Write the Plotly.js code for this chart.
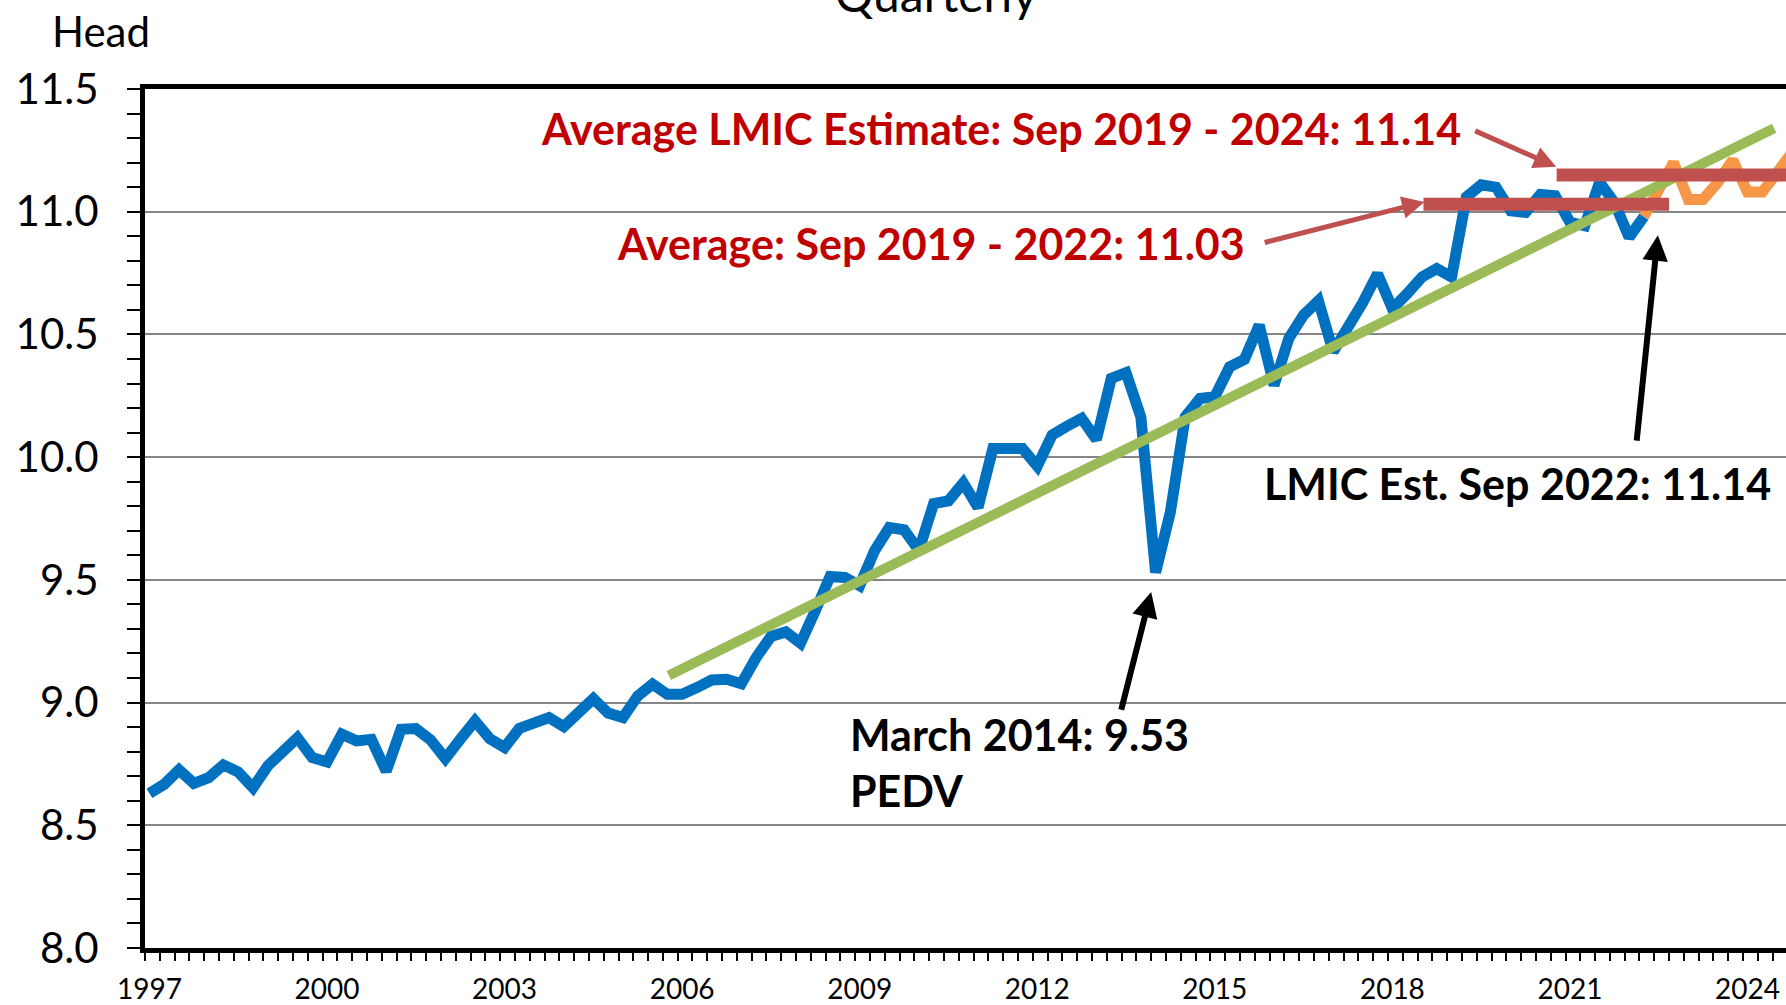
<!DOCTYPE html>
<html>
<head>
<meta charset="utf-8">
<script src="https://cdn.plot.ly/plotly-3.0.1.min.js"></script>
<style>
  html, body { margin: 0; padding: 0; background: #ffffff; overflow: hidden; }
  #chart { width: 1859px; height: 1005px; }
</style>
</head>
<body>
<div id="chart"></div>
<script>
// Quarterly head count, March 1997 onward (one value per quarter)
const blueValues = [
  8.63, 8.667, 8.726, 8.671, 8.694, 8.746, 8.717, 8.653, 8.742, 8.80,
  8.857, 8.776, 8.758, 8.871, 8.844, 8.85, 8.72, 8.891, 8.894, 8.848,
  8.772, 8.85, 8.925, 8.853, 8.817, 8.895, 8.915, 8.939, 8.902, 8.96,
  9.016, 8.957, 8.939, 9.027, 9.075, 9.034, 9.034, 9.061, 9.092, 9.095,
  9.077, 9.183, 9.269, 9.288, 9.242, 9.374, 9.514, 9.51, 9.476, 9.618,
  9.713, 9.704, 9.62, 9.811, 9.822, 9.895, 9.795, 10.035, 10.038, 10.035,
  9.963, 10.09, 10.126, 10.158, 10.072, 10.321, 10.344, 10.164, 9.53, 9.777,
  10.164, 10.239, 10.246, 10.368, 10.398, 10.538, 10.293, 10.484, 10.579, 10.637,
  10.43, 10.52, 10.63, 10.747, 10.605, 10.666, 10.734, 10.768, 10.734, 11.06,
  11.11, 11.10, 11.004, 10.997, 11.07, 11.065, 10.957, 10.943, 11.12, 11.038,
  10.896, 10.98
];
// LMIC estimate (orange), starting at the last actual quarter
const orangeStart = 101;
const orangeValues = [10.98, 11.10, 11.20, 11.05, 11.05, 11.12, 11.21, 11.08, 11.08, 11.16, 11.24];

// Trend line (green) end points: quarter index, value
const trendX = [35.1, 109.8];
const trendY = [9.11, 11.34];

// Average bars
const avg2022X = [86.1, 102.7];
const avg2022Y = [11.03, 11.03];
const avg2024X = [95.1, 116];
const avg2024Y = [11.15, 11.15];

// Axis labels
const yearTickVals = [0, 12, 24, 36, 48, 60, 72, 84, 96, 108];
const yearTickText = ['1997', '2000', '2003', '2006', '2009', '2012', '2015', '2018', '2021', '2024'];
const yTickVals = [8.0, 8.5, 9.0, 9.5, 10.0, 10.5, 11.0, 11.5];
const yTickText = ['8.0', '8.5', '9.0', '9.5', '10.0', '10.5', '11.0', '11.5'];

const blueX = blueValues.map((_, i) => i);
const orangeX = orangeValues.map((_, i) => orangeStart + i);

const traces = [
  { x: blueX, y: blueValues, mode: 'lines', line: { color: '#0070C0', width: 11 }, hoverinfo: 'skip' },
  { x: orangeX, y: orangeValues, mode: 'lines', line: { color: '#F79646', width: 11 }, hoverinfo: 'skip' },
  { x: trendX, y: trendY, mode: 'lines', line: { color: '#9BBB59', width: 10 }, hoverinfo: 'skip' },
  { x: avg2022X, y: avg2022Y, mode: 'lines', line: { color: '#C0504D', width: 13 }, hoverinfo: 'skip' },
  { x: avg2024X, y: avg2024Y, mode: 'lines', line: { color: '#C0504D', width: 13 }, hoverinfo: 'skip' }
];

const txtFont = 'Lato, sans-serif';
const red = '#C00000';

const layout = {
  width: 1859,
  height: 1005,
  margin: { l: 145, r: 2, t: 89, b: 57, pad: 0 },
  paper_bgcolor: '#ffffff',
  plot_bgcolor: '#ffffff',
  showlegend: false,
  xaxis: {
    range: [-0.3, 115.4],
    tickmode: 'array',
    tickvals: yearTickVals,
    ticktext: yearTickText,
    ticks: '',
    showgrid: false,
    zeroline: false,
    showline: true,
    mirror: true,
    linecolor: '#000000',
    linewidth: 5,
    tickfont: { family: txtFont, size: 28, color: '#000000' },
    ticklabelstandoff: 12,
    minor: { tick0: -0.3, dtick: 1, ticks: 'outside', ticklen: 8, tickwidth: 2, tickcolor: '#000000', showgrid: false }
  },
  yaxis: {
    range: [8, 11.5],
    tickmode: 'array',
    tickvals: yTickVals,
    ticktext: yTickText,
    ticks: 'outside',
    ticklen: 13,
    tickwidth: 2,
    tickcolor: '#000000',
    showgrid: true,
    gridcolor: '#868686',
    gridwidth: 2,
    zeroline: false,
    showline: true,
    linecolor: '#000000',
    linewidth: 5,
    tickfont: { family: txtFont, size: 42, color: '#000000' },
    ticklabelstandoff: 20,
    minor: { tick0: 8, dtick: 0.1, ticks: 'outside', ticklen: 13, tickwidth: 2, tickcolor: '#000000', showgrid: false }
  },
  annotations: [
    { xref: 'paper', yref: 'paper', x: -0.0257, y: 1.0675, xanchor: 'center', yanchor: 'middle',
      text: 'Head', showarrow: false, font: { family: txtFont, size: 42, color: '#000000' } },
    { xref: 'paper', yref: 'paper', x: 0.4621, y: 1.1106, xanchor: 'center', yanchor: 'middle',
      text: 'Quarterly', showarrow: false, font: { family: txtFont, size: 48, color: '#000000' } },

    { xref: 'x', yref: 'y', x: 88.8, y: 11.34, xanchor: 'right', yanchor: 'middle', showarrow: false,
      text: '<b>Average LMIC Estimate: Sep 2019 - 2024: 11.14</b>', font: { family: txtFont, size: 43, color: red } },
    { xref: 'x', yref: 'y', x: 74.2, y: 10.872, xanchor: 'right', yanchor: 'middle', showarrow: false,
      text: '<b>Average: Sep 2019 - 2022: 11.03</b>', font: { family: txtFont, size: 43, color: red } },
    { xref: 'x', yref: 'y', x: 75.2, y: 9.894, xanchor: 'left', yanchor: 'middle', showarrow: false,
      text: '<b>LMIC Est. Sep 2022: 11.14</b>', font: { family: txtFont, size: 43, color: '#000000' } },
    { xref: 'x', yref: 'y', x: 47.2, y: 8.757, xanchor: 'left', yanchor: 'middle', showarrow: false, align: 'left',
      text: '<b>March 2014: 9.53</b><br><b>PEDV</b>', font: { family: txtFont, size: 43, color: '#000000' } },

    { xref: 'x', yref: 'y', axref: 'x', ayref: 'y', x: 95.07, y: 11.183, ax: 89.5, ay: 11.332,
      text: '', showarrow: true, arrowhead: 2, arrowsize: 0.9, arrowwidth: 5, arrowcolor: '#C0504D', standoff: 0 },
    { xref: 'x', yref: 'y', axref: 'x', ayref: 'y', x: 86.17, y: 11.04, ax: 75.27, ay: 10.873,
      text: '', showarrow: true, arrowhead: 2, arrowsize: 0.9, arrowwidth: 5, arrowcolor: '#C0504D', standoff: 0 },
    { xref: 'x', yref: 'y', axref: 'x', ayref: 'y', x: 101.94, y: 10.904, ax: 100.5, ay: 10.061,
      text: '', showarrow: true, arrowhead: 2, arrowsize: 0.85, arrowwidth: 6, arrowcolor: '#000000', standoff: 0 },
    { xref: 'x', yref: 'y', axref: 'x', ayref: 'y', x: 67.7, y: 9.451, ax: 65.65, ay: 8.965,
      text: '', showarrow: true, arrowhead: 2, arrowsize: 0.85, arrowwidth: 6, arrowcolor: '#000000', standoff: 0 }
  ]
};

Plotly.newPlot('chart', traces, layout, { displayModeBar: false, staticPlot: true, responsive: false });
</script>
</body>
</html>
